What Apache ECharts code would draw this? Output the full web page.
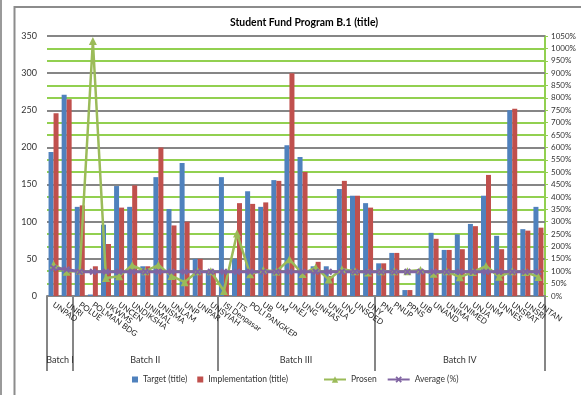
<!DOCTYPE html>
<html>
<head>
<meta charset="utf-8">
<script src="https://cdn.jsdelivr.net/npm/echarts@6/dist/echarts.min.js"></script>
<style>
html,body{margin:0;padding:0;background:#fff;}
#c{width:581px;height:395px;}
</style>
</head>
<body>
<div id="c"></div>
<script>
const categories = ['UNPAD','UNRI',
  'POLUE','POLMAN BDG','UKWMS','UNCEN','UNDIKSHA','UNIMAL','UNISMA','UNLAM','UNP','UNPAR','UNSYIAH',
  'ISI Denpasar','ITS','POLI PANGKEP','UB','UM','UNEJ','UNG','UNHAS','UNILA','UNJ','UNSOED','UNY',
  'PNL','PNUP','PPNS','UIB','UNAND','UNIMA','UNIMED','UNJA','UNM','UNNES','UNSRAT','UNSRI','UNTAN'];
const batchNames = ['Batch I','Batch II','Batch III','Batch IV'];
const batchSizes = [2, 11, 12, 13];
const targetValues = [194,271,
  120,2,96,148,120,40,160,117,179,50,33,
  160,50,141,120,156,203,187,40,40,144,135,125,
  44,58,8,33,85,62,83,97,135,81,250,90,120];
const implementationValues = [246,265,
  122,40,70,119,149,40,200,95,100,50,33,
  32,125,124,126,155,300,167,46,27,155,135,119,
  44,58,8,33,77,62,63,94,163,63,252,88,92];
const prosenValues = [127,98,
  102,1030,73,80,124,100,125,81,56,100,100,
  20,252,88,105,99,148,89,115,67,108,100,95,
  100,100,100,105,90,100,76,97,121,78,100,97,77];
const averageValues = [113,107,
  98,98,98,98,98,98,98,98,98,98,98,
  98,98,98,98,98,98,98,98,98,98,98,98,
  98,98,98,98,98,98,98,98,98,98,98,98,98];
const leftAxisMax = 350, leftAxisStep = 50;
const rightAxisMax = 1050, rightAxisStep = 50;

const bounds = [0];
batchSizes.forEach(s => bounds.push(bounds[bounds.length - 1] + s));
const centers = batchSizes.map((s, i) => bounds[i] + s / 2);

const FONT = 'Lato, "Noto Sans", sans-serif';
const GRAY = '#868686';
const GREEN = '#92d050';
const xSymbol = 'path://M0,2L2,0L5,3L8,0L10,2L7,5L10,8L8,10L5,7L2,10L0,8L3,5Z';

const chart = echarts.init(document.getElementById('c'), null, {renderer: 'canvas'});
chart.setOption({
  animation: false,
  backgroundColor: '#fff',
  textStyle: {fontFamily: FONT},
  title: {
    text: 'Student Fund Program B.1 (title)',
    left: 225, top: 13,
    textStyle: {fontSize: 10.4, fontWeight: 'bold', color: '#000', fontFamily: FONT}
  },
  graphic: [
    {type: 'line', shape: {x1: 1, y1: 0, x2: 1, y2: 395}, style: {stroke: '#9a9a9a', lineWidth: 2}},
    {type: 'polyline', shape: {points: [[14.5, 395], [14.5, 7], [581, 7]]}, style: {stroke: '#8c8c8c', lineWidth: 2, fill: null}}
  ],
  legend: [{
    bottom: 6, left: 127,
    itemWidth: 6, itemHeight: 6, itemGap: 10,
    textStyle: {fontSize: 8.5, color: '#333', fontFamily: FONT},
    data: [{name: 'Target (title)', icon: 'rect'}, {name: 'Implementation (title)', icon: 'rect'}]
  }, {
    bottom: 6, left: 318,
    itemWidth: 22, itemHeight: 8, itemGap: 10,
    textStyle: {fontSize: 8.5, color: '#333', fontFamily: FONT},
    data: ['Prosen', 'Average (%)']
  }],
  grid: {left: 47, right: 36, top: 36, bottom: 99, containLabel: false},
  xAxis: [{
    type: 'category',
    data: categories,
    boundaryGap: true,
    axisLine: {show: true, lineStyle: {color: GRAY, width: 2}},
    axisTick: {show: false},
    axisLabel: {interval: 0, rotate: -35, fontSize: 8, color: '#222', margin: 8, fontFamily: FONT},
    splitLine: {show: false}
  }, {
    type: 'value',
    min: 0, max: categories.length,
    position: 'bottom',
    axisLine: {show: false},
    splitLine: {show: false},
    axisTick: {show: true, customValues: bounds, length: 75, lineStyle: {color: GRAY, width: 2}},
    axisLabel: {
      customValues: centers, margin: 60, fontSize: 9, color: '#333', fontFamily: FONT,
      formatter: v => batchNames[centers.indexOf(v)]
    }
  }],
  yAxis: [{
    type: 'value', position: 'left', min: 0, max: leftAxisMax, interval: leftAxisStep, z: 1,
    axisLine: {show: false}, axisTick: {show: false},
    axisLabel: {fontSize: 9, color: '#333', margin: 10, fontFamily: FONT},
    splitLine: {show: true, lineStyle: {color: GRAY, width: 2}}
  }, {
    type: 'value', position: 'right', min: 0, max: rightAxisMax, interval: rightAxisStep, z: 0,
    axisLine: {show: true, lineStyle: {color: GREEN, width: 2}},
    axisTick: {show: true, length: 3, lineStyle: {color: GREEN}},
    axisLabel: {fontSize: 8, color: '#333', margin: 6, formatter: v => v + '%', fontFamily: FONT},
    splitLine: {show: true, lineStyle: {color: GREEN, width: 2}}
  }],
  series: [{
    name: 'Target (title)', type: 'bar', xAxisIndex: 0, yAxisIndex: 0,
    data: targetValues, barWidth: 5, barGap: '0%',
    itemStyle: {color: '#4f81bd'}
  }, {
    name: 'Implementation (title)', type: 'bar', xAxisIndex: 0, yAxisIndex: 0,
    data: implementationValues, barWidth: 5, barGap: '0%',
    itemStyle: {color: '#c0504d'}
  }, {
    name: 'Prosen', type: 'line', xAxisIndex: 0, yAxisIndex: 1,
    data: prosenValues, symbol: 'triangle', symbolSize: 8, showAllSymbol: true,
    lineStyle: {color: '#9bbb59', width: 2.5}, itemStyle: {color: '#9bbb59'}
  }, {
    name: 'Average (%)', type: 'line', xAxisIndex: 0, yAxisIndex: 1,
    data: averageValues, symbol: xSymbol, symbolSize: 7, showAllSymbol: true,
    lineStyle: {color: '#8064a2', width: 3}, itemStyle: {color: '#8064a2'}
  }]
});
</script>
</body>
</html>
